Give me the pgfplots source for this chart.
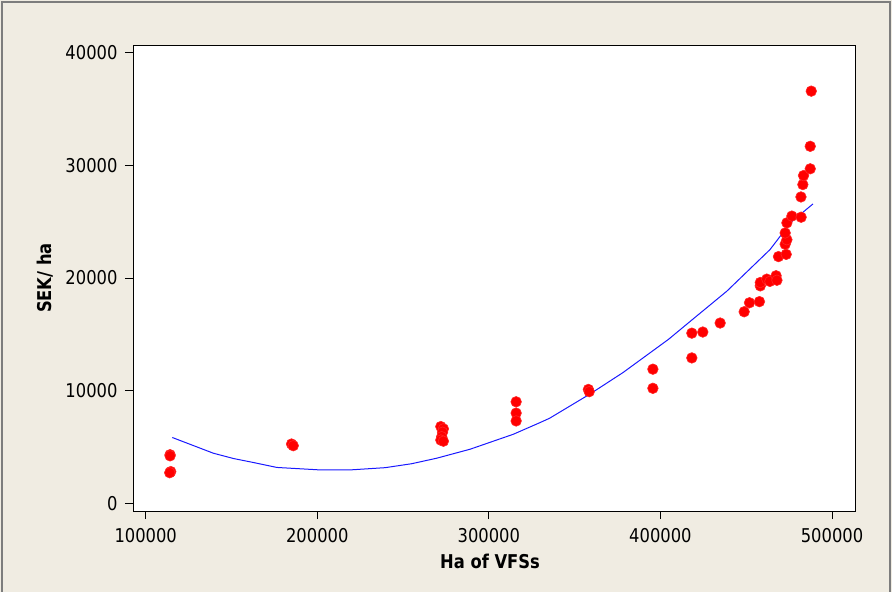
\documentclass[border=0pt]{standalone}
\usepackage{fontspec}
\setmainfont{DejaVu Sans}[FakeStretch=0.86]
\usepackage{pgfplots}
\pgfplotsset{compat=1.18}
\definecolor{panelbg}{RGB}{240,236,226}
\definecolor{framegray}{RGB}{125,125,125}
\definecolor{fitblue}{RGB}{25,25,255}
\definecolor{dotred}{RGB}{255,0,0}

\pgfplotstableread{
x y
114200 4300
114200 4200
114600 2800
114000 2700
185000 5250
186000 5100
272000 6800
273500 6600
273000 6300
272500 5900
272000 5600
273500 5500
315900 9000
315900 8000
315900 7300
358000 10100
358500 9900
395600 11900
395600 10200
418300 15100
424700 15200
434800 16000
418300 12900
448800 17000
451900 17800
457700 17900
458200 19300
458200 19600
462000 19900
463800 19700
467400 20200
467900 19800
468800 21900
473300 22100
472700 23000
473700 23400
472700 24000
473700 24900
476600 25500
482000 25400
481900 27200
483000 28300
483400 29100
487300 29700
487300 31700
487900 36600
}\obsdata

\pgfplotstableread{
x y
115500 5830
139400 4435
151100 3965
162700 3610
176400 3170
201600 2950
219100 2950
239600 3150
255000 3500
269600 3990
289100 4790
314300 6120
329900 7160
335400 7540
358700 9670
378100 11590
404700 14550
419200 16380
438700 18830
463900 22530
469800 23710
475600 24900
488900 26580
}\fitdata

\begin{document}
\begin{tikzpicture}
\fill[panelbg] (0,0) rectangle (892bp,592bp);
\useasboundingbox (0,0) rectangle (892bp,592bp);
\draw[framegray, line width=1.5bp] (2bp,0) -- (2bp,590bp) -- (890bp,590bp) -- (890bp,0);
\begin{axis}[
  at={(133bp,81bp)}, anchor=south west,
  scale only axis, width=722bp, height=466bp,
  xmin=92600, xmax=513400, ymin=-700, ymax=40700,
  axis background/.style={fill=white},
  axis line style={black, line width=0.9bp},
  xtick={100000,200000,300000,400000,500000},
  ytick={0,10000,20000,30000,40000},
  scaled ticks=false,
  /pgf/number format/.cd, 1000 sep={}, fixed, assume math mode=true, /pgfplots/.cd,
  tick pos=left, tick align=outside,
  major tick length=8bp,
  tick style={black, line width=0.8bp},
  ticklabel style={font=\fontsize{19bp}{22bp}\selectfont},
  xticklabel style={yshift=-6bp},
  yticklabel style={xshift=-4bp},
  every axis x label/.style={at={(axis description cs:0.5,0)}, anchor=center, yshift=-50bp, xshift=-4bp},
  every axis y label/.style={at={(axis description cs:-0.122,0.5)}, rotate=90, anchor=center},
  label style={font=\fontsize{19bp}{22bp}\selectfont\bfseries},
  xlabel={Ha of VFSs},
  ylabel={SEK/ ha},
]
\addplot[fitblue, line width=1bp, no markers] table[x=x, y=y] {\fitdata};
\addplot[only marks, mark=*, mark size=5.3bp,
  mark options={fill=dotred, draw=dotred!85!white, line width=0.6bp}]
  table[x=x, y=y] {\obsdata};
\end{axis}
\end{tikzpicture}
\end{document}
